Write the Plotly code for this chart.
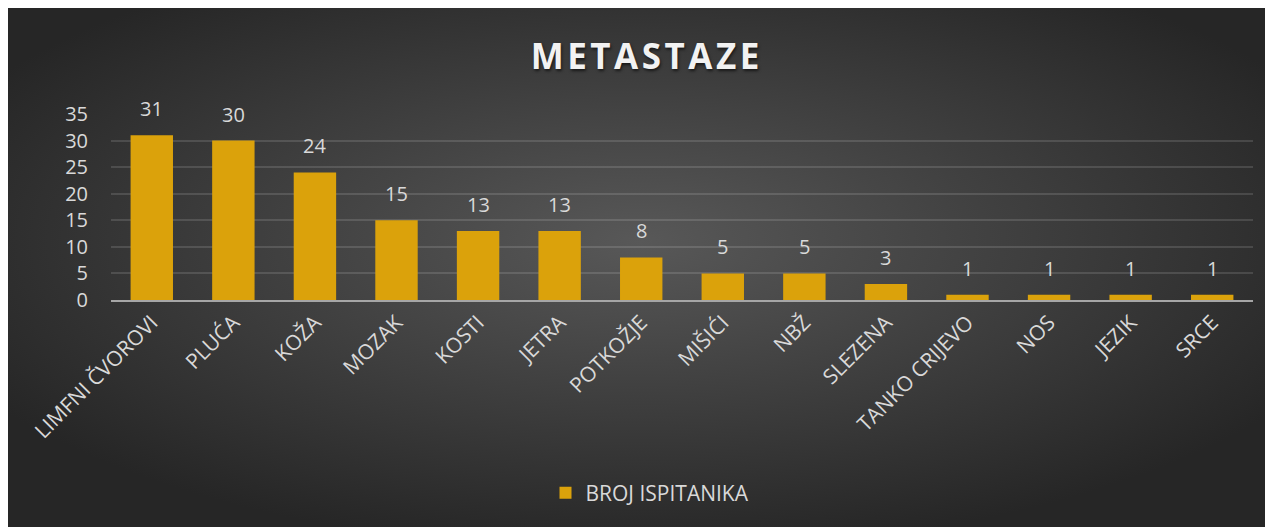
import plotly.graph_objects as go

# podaci
organi = ["LIMFNI ČVOROVI", "PLUĆA", "KOŽA", "MOZAK", "KOSTI", "JETRA", "POTKOŽJE",
          "MIŠIĆI", "NBŽ", "SLEZENA", "TANKO CRIJEVO", "NOS", "JEZIK", "SRCE"]
broj_ispitanika = [31, 30, 24, 15, 13, 13, 8, 5, 5, 3, 1, 1, 1, 1]
y_tikovi = [0, 5, 10, 15, 20, 25, 30, 35]

# stranica ima 8px margine, pa je figura malo manja
W, H = 1264, 519
L, R, T, B = 103, 19, 106, 227
pw, ph = W - L - R, H - T - B

# tamna radijalna pozadina (kao u Excelu)
svg = ("<svg xmlns='http://www.w3.org/2000/svg' width='1264' height='519' preserveAspectRatio='none'>"
       "<defs><radialGradient id='g' cx='50%' cy='45%' r='60%'>"
       "<stop offset='0%' stop-color='%23585858'/><stop offset='100%' stop-color='%23262626'/>"
       "</radialGradient></defs><rect width='100%' height='100%' fill='url(%23g)'/></svg>")
pozadina = "data:image/svg+xml;utf8," + svg

font = "Open Sans, Liberation Sans, sans-serif"
siva = "#d9d9d9"
zlatna = "#DBA20B"

fig = go.Figure()
fig.add_trace(go.Bar(x=organi, y=broj_ispitanika, name="BROJ ISPITANIKA",
                     marker=dict(color=zlatna, line=dict(width=0)), width=0.52))

# oznake vrijednosti iznad stupaca
for o, v in zip(organi, broj_ispitanika):
    fig.add_annotation(x=o, y=v, text=str(v), showarrow=False, yanchor="bottom", yshift=11,
                       font=dict(size=20, color=siva, family=font))

x0 = -L / pw
x1 = (W - L) / pw
y1 = (T + ph) / ph
y0 = (T + ph - H) / ph
fig.add_layout_image(source=pozadina, xref="paper", yref="paper", x=x0, y=y1,
                     sizex=x1 - x0, sizey=y1 - y0, sizing="stretch", layer="below",
                     xanchor="left", yanchor="top")

fig.update_layout(
    width=W, height=H,
    margin=dict(l=L, r=R, t=T, b=B),
    paper_bgcolor="#2b2b2b", plot_bgcolor="rgba(0,0,0,0)",
    title=dict(text="M\u200aE\u200aT\u200aA\u200aS\u200aT\u200aA\u200aZ\u200aE", x=(637 - L) / pw, xref="paper",
               xanchor="center", y=1 - 49 / H, yanchor="middle",
               font=dict(size=35, color="#f2f2f2", family=font, weight="bold",
                         shadow="1px 2px 3px rgba(0,0,0,0.6)")),
    xaxis=dict(tickangle=-45, tickfont=dict(size=21, color=siva, family=font),
               showline=True, linecolor="#a6a6a6", linewidth=2, ticks="", showgrid=False),
    yaxis=dict(range=[0, 35], tickvals=y_tikovi, tickfont=dict(size=20, color=siva, family=font),
               gridcolor="rgba(255,255,255,0.13)", gridwidth=1.5, zeroline=False, ticks="",
               ticklabelstandoff=22),
    showlegend=True,
    legend=dict(orientation="h", x=(642 - L) / pw, xanchor="center", y=(T + ph - 485) / ph,
                yanchor="middle", yref="paper",
                font=dict(size=21, color=siva, family=font), bgcolor="rgba(0,0,0,0)"),
    bargap=0.48,
)

fig.write_html("out.html")
